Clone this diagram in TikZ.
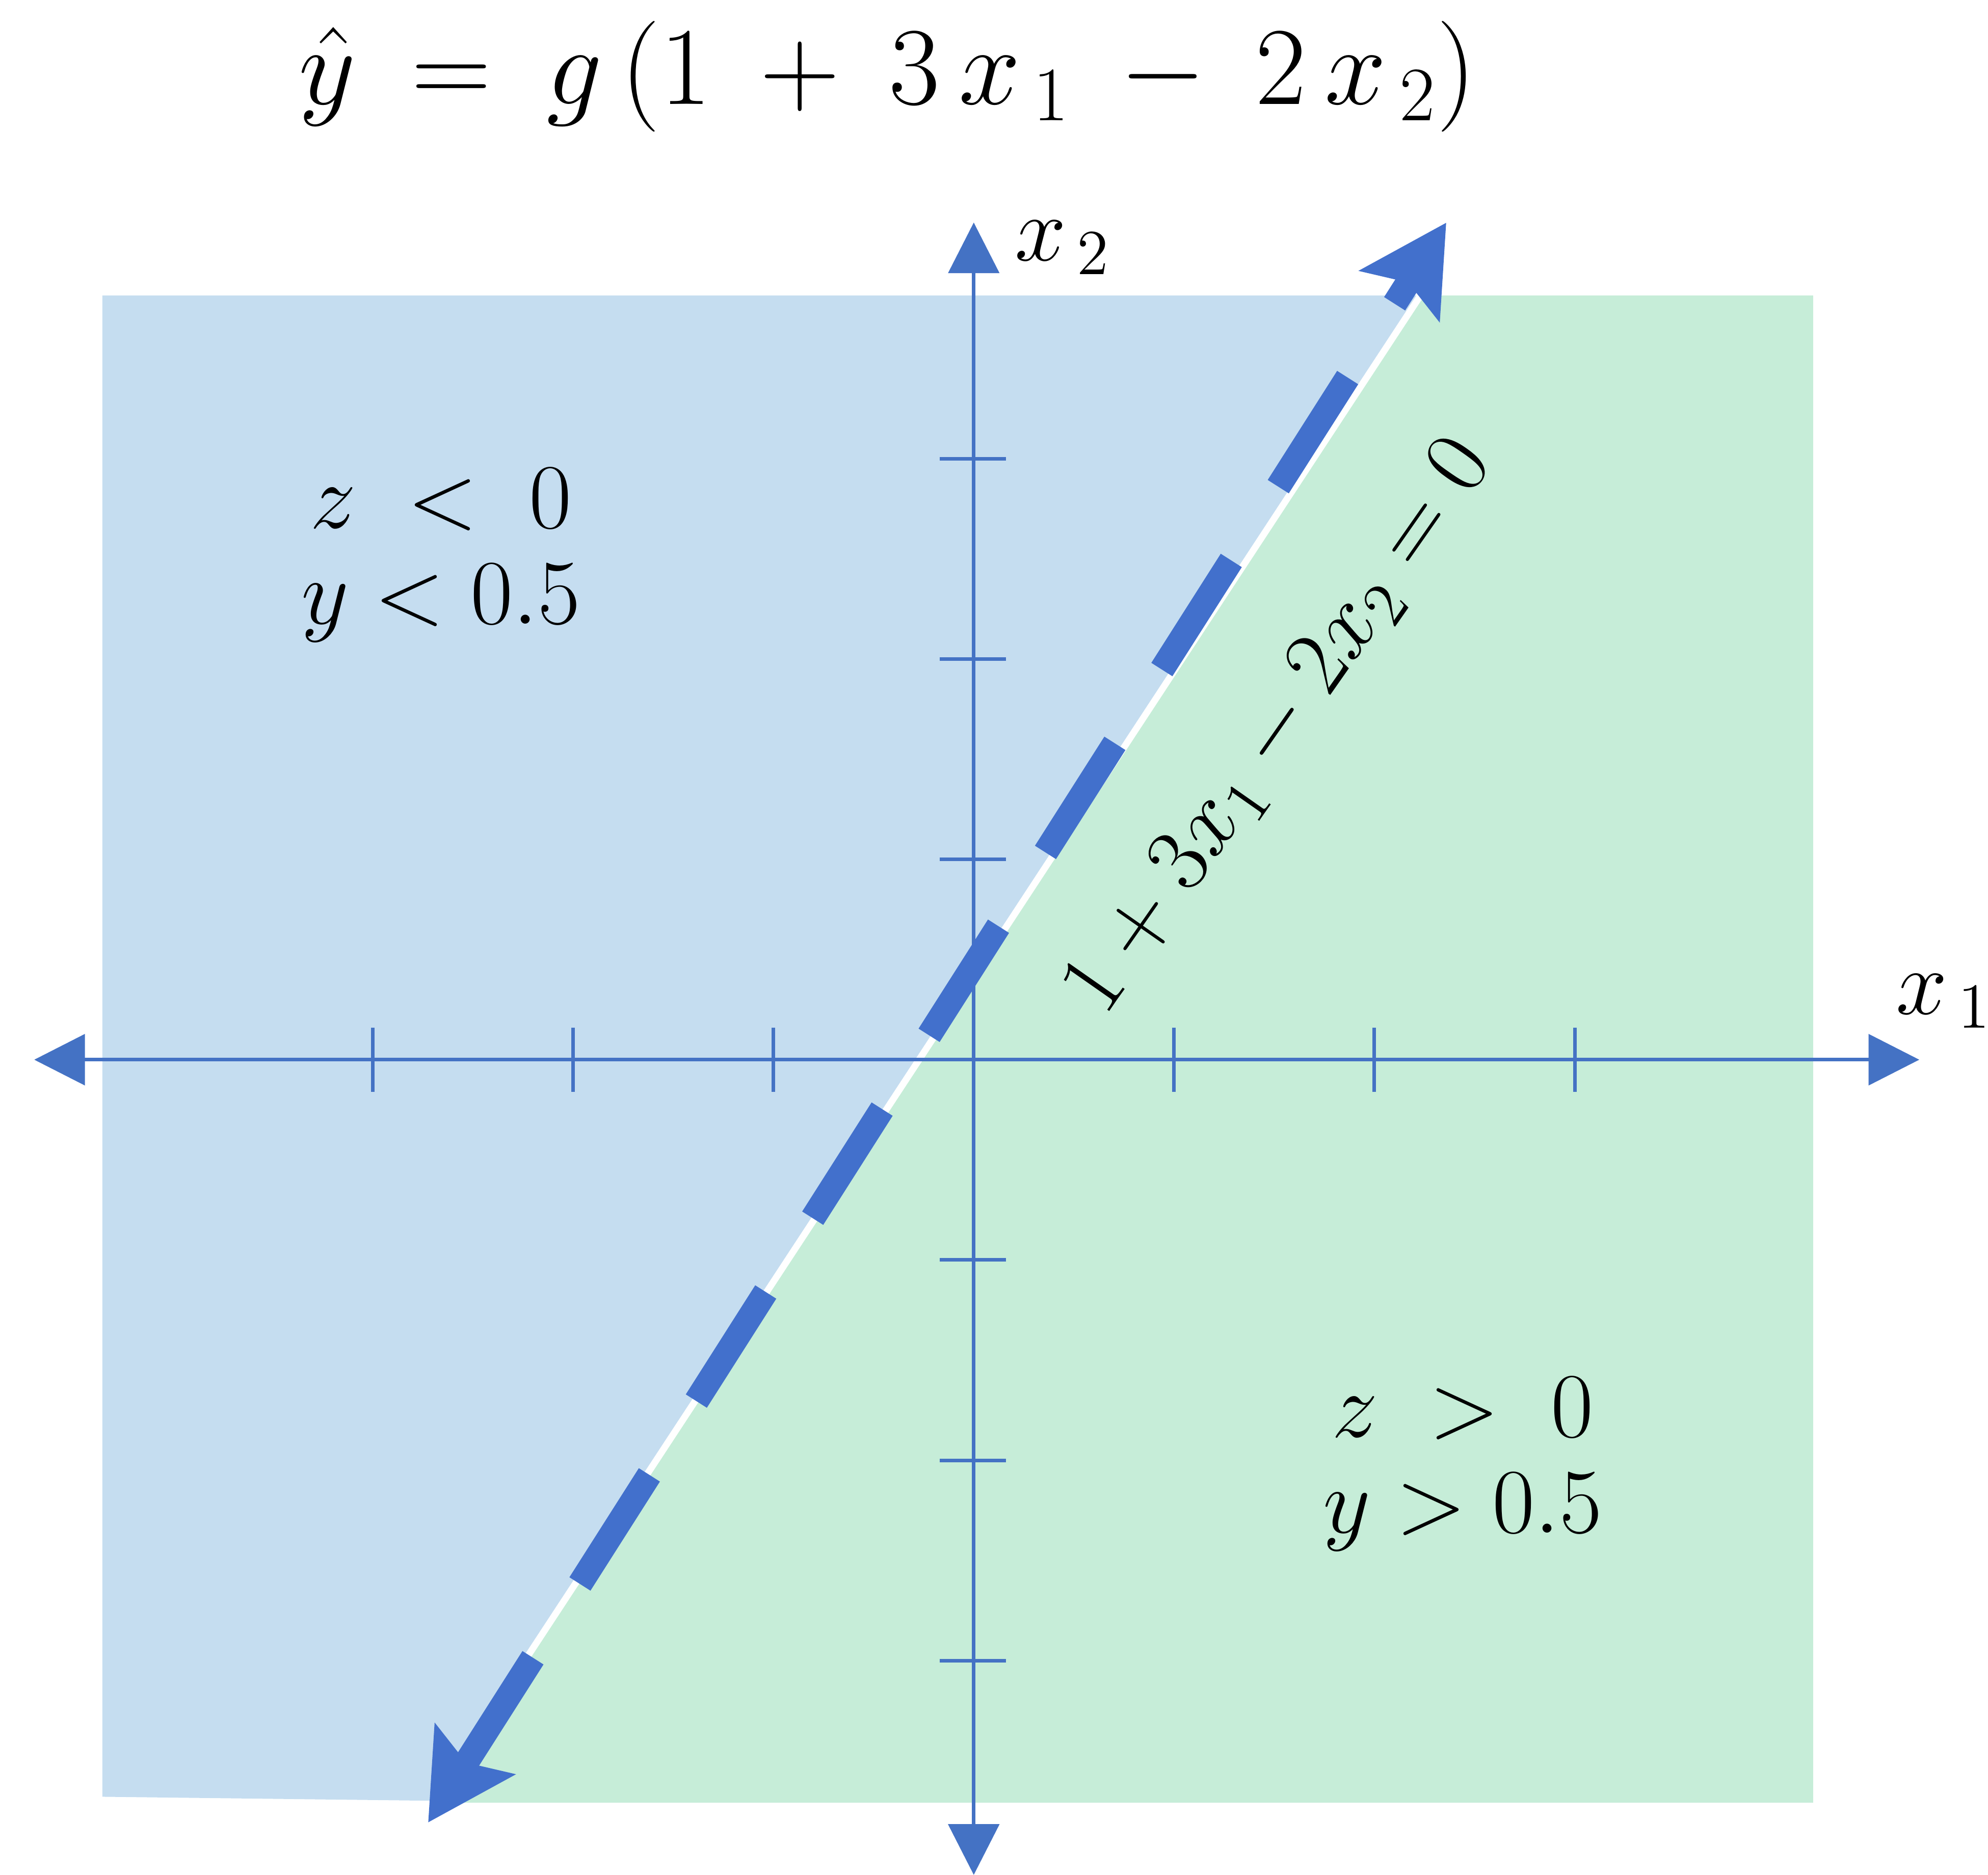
\documentclass[tikz,border=0pt]{standalone}
\usepackage{amsmath}
\usepackage{xcolor}
\usetikzlibrary{arrows.meta, positioning, calc}
\definecolor{axisblue}{RGB}{68,114,196}
\definecolor{dashblue}{RGB}{66,112,204}
\definecolor{negfill}{RGB}{197,221,240}
\definecolor{posfill}{RGB}{198,237,216}
\tikzset{
  % Coordinate axes (triangle heads at both ends)
  axisline/.style={{Triangle[length=0.4cm, width=0.4cm]}-{Triangle[length=0.4cm, width=0.4cm]},
    line width=0.8pt, color=axisblue},
  tickmark/.style={line width=0.8pt, color=axisblue},
  % Decision boundary (thick dashed, stealth heads)
  boundary/.style={{Stealth[length=0.68cm, width=0.73cm, inset=0.12cm]}-{Stealth[length=0.68cm, width=0.73cm, inset=0.12cm]},
    line width=5.6pt, color=dashblue, dash pattern=on 1.02cm off 0.69cm, dash phase=0cm},
  splitline/.style={line width=1.5pt, color=white},
  % Half-plane regions (parameterized by color)
  region/.style={draw=none, fill=#1},
  regionlabel/.style={font=\fontsize{20}{21.5}\selectfont, align=center, inner sep=0pt},
  axislabel/.style={font=\fontsize{20}{24}\selectfont, inner sep=0pt},
  eqnlabel/.style={font=\fontsize{22}{26}\selectfont, inner sep=0pt},
  titlelabel/.style={font=\fontsize{25}{30}\selectfont, inner sep=0pt}
}

\begin{document}
\begin{tikzpicture}[x=1.58cm, y=1.58cm]
  \useasboundingbox (-4.861,-4.070) rectangle (5.063,5.291);

  % Corners of the two half planes
  \coordinate (nw) at (-4.35, 3.816);
  \coordinate (sw) at (-4.35,-3.68);
  \coordinate (ne) at ( 4.19, 3.816);
  \coordinate (se) at ( 4.19,-3.71);
  \coordinate (cuttop) at ( 2.230, 3.816);
  \coordinate (cutbot) at (-2.700,-3.70);

  % Regions: z < 0 (left) and z > 0 (right)
  \fill[region=negfill] (nw) -- (cuttop) -- (cutbot) -- (sw) -- cycle;
  \fill[region=posfill] (cuttop) -- (ne) -- (se) -- (cutbot |- se) -- (cutbot) -- cycle;
  \draw[splitline] (cutbot) -- (cuttop);

  % Axes
  \coordinate (xlo) at (-4.69, 0);
  \coordinate (xhi) at ( 4.72, 0);
  \coordinate (ylo) at (0,-4.07);
  \coordinate (yhi) at (0, 4.18);
  \draw[axisline] (xlo) -- (xhi);
  \draw[axisline] (ylo) -- (yhi);

  % Tick marks
  \foreach \k in {-3,-2,-1,1,2,3} {
    \draw[tickmark] (\k,-0.16) -- (\k,0.16);
    \draw[tickmark] (-0.17,\k) -- (0.16,\k);
  }

  % Boundary 1 + 3x1 - 2x2 = 0
  \coordinate (blo) at (-2.724,-3.809);
  \coordinate (bhi) at ( 2.359, 4.180);
  \draw[boundary] (blo) -- (bhi);

  % Labels
  \node[titlelabel] (title) at (-0.43, 4.91)
    {$\hat{y} \:=\: g\,(1 \:+\: 3\,x_{\,1} \:-\: 2\,x_{\,2})$};
  \node[axislabel, anchor=base west] (xtwo) at (0.20, 3.99) {$x_{\,2}$};
  \node[axislabel, anchor=base west] (xone) at (4.60, 0.228) {$x_{\,1}$};
  \node[regionlabel] (neg) at (-2.66, 2.52) {$z\;<\;0$\\$y < 0.5$};
  \node[regionlabel] (pos) at (2.44,-2.02) {$z\;>\;0$\\$y > 0.5$};
  \node[eqnlabel, rotate=55] (eqn) at (1.53, 1.66) {$1 + 3x_1 - 2x_2 = 0$};
\end{tikzpicture}
\end{document}
